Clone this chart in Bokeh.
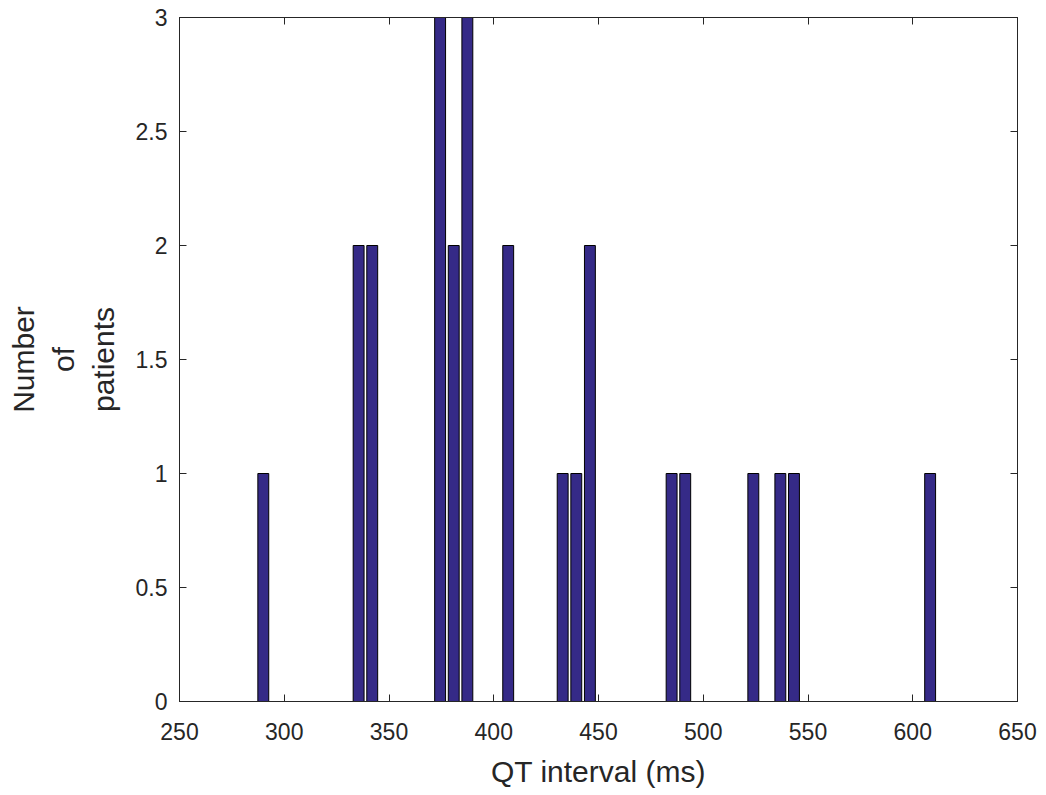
from bokeh.plotting import figure
from bokeh.models import LinearAxis, FixedTicker, Range1d, ColumnDataSource
from bokeh.embed import file_html
from bokeh.resources import INLINE

# Histogram of QT intervals: bin centres (ms) and patient counts per bin
qt_ms = [290.0, 335.5, 342.0, 374.4, 380.9, 387.4, 406.9, 432.9,
         439.4, 445.9, 484.9, 491.4, 523.9, 536.8, 543.3, 608.3]
patients = [1, 2, 2, 3, 2, 3, 2, 1, 1, 2, 1, 1, 1, 1, 1, 1]
bar_width_ms = 5.2

x_ticks = [250, 300, 350, 400, 450, 500, 550, 600, 650]
y_ticks = [0, 0.5, 1, 1.5, 2, 2.5, 3]
y_tick_labels = ["0", "0.5", "1", "1.5", "2", "2.5", "3"]

FONT = "Liberation Sans"
INK = "#262626"
BAR = "#352A87"

src = ColumnDataSource(dict(x=qt_ms, top=patients))

p = figure(width=1046, height=795,
           x_range=Range1d(250, 650), y_range=Range1d(0, 3),
           output_backend="svg", toolbar_location=None,
           min_border_left=179, min_border_right=29,
           min_border_top=17, min_border_bottom=94,
           x_axis_label="QT interval (ms)",
           y_axis_label="Number\nof\npatients")

p.vbar(x="x", top="top", bottom=0, width=bar_width_ms, source=src,
       fill_color=BAR, line_color="black", line_width=1)

p.grid.visible = False
p.outline_line_color = INK
p.background_fill_color = "white"
p.border_fill_color = "white"

p.xaxis.ticker = FixedTicker(ticks=x_ticks)
p.yaxis.ticker = FixedTicker(ticks=y_ticks)
p.yaxis.major_label_overrides = {t: s for t, s in zip(y_ticks, y_tick_labels)}

for ax in (p.xaxis[0], p.yaxis[0]):
    ax.axis_line_color = INK
    ax.major_tick_line_color = INK
    ax.major_tick_in = 7
    ax.major_tick_out = 0
    ax.minor_tick_line_color = None
    ax.major_label_text_font = FONT
    ax.major_label_text_font_size = "23px"
    ax.major_label_text_color = INK
    ax.axis_label_text_font = FONT
    ax.axis_label_text_font_size = "30px"
    ax.axis_label_text_font_style = "normal"
    ax.axis_label_text_color = INK

p.xaxis.major_label_standoff = 21
p.xaxis.axis_label_standoff = 12
p.yaxis.major_label_standoff = 12
p.yaxis.axis_label_standoff = 13
p.yaxis.axis_label_text_line_height = 1.21

# mirrored ticks on the top and right edges of the box
top_ax = LinearAxis(ticker=FixedTicker(ticks=x_ticks),
                    major_label_overrides={t: "" for t in x_ticks})
right_ax = LinearAxis(ticker=FixedTicker(ticks=y_ticks),
                      major_label_overrides={t: "" for t in y_ticks})
for ax in (top_ax, right_ax):
    ax.axis_line_color = INK
    ax.major_tick_line_color = INK
    ax.major_tick_in = 7
    ax.major_tick_out = 0
    ax.minor_tick_line_color = None
    ax.major_label_standoff = 0
p.add_layout(top_ax, "above")
p.add_layout(right_ax, "right")

open("out.html", "w").write(file_html(p, INLINE))
